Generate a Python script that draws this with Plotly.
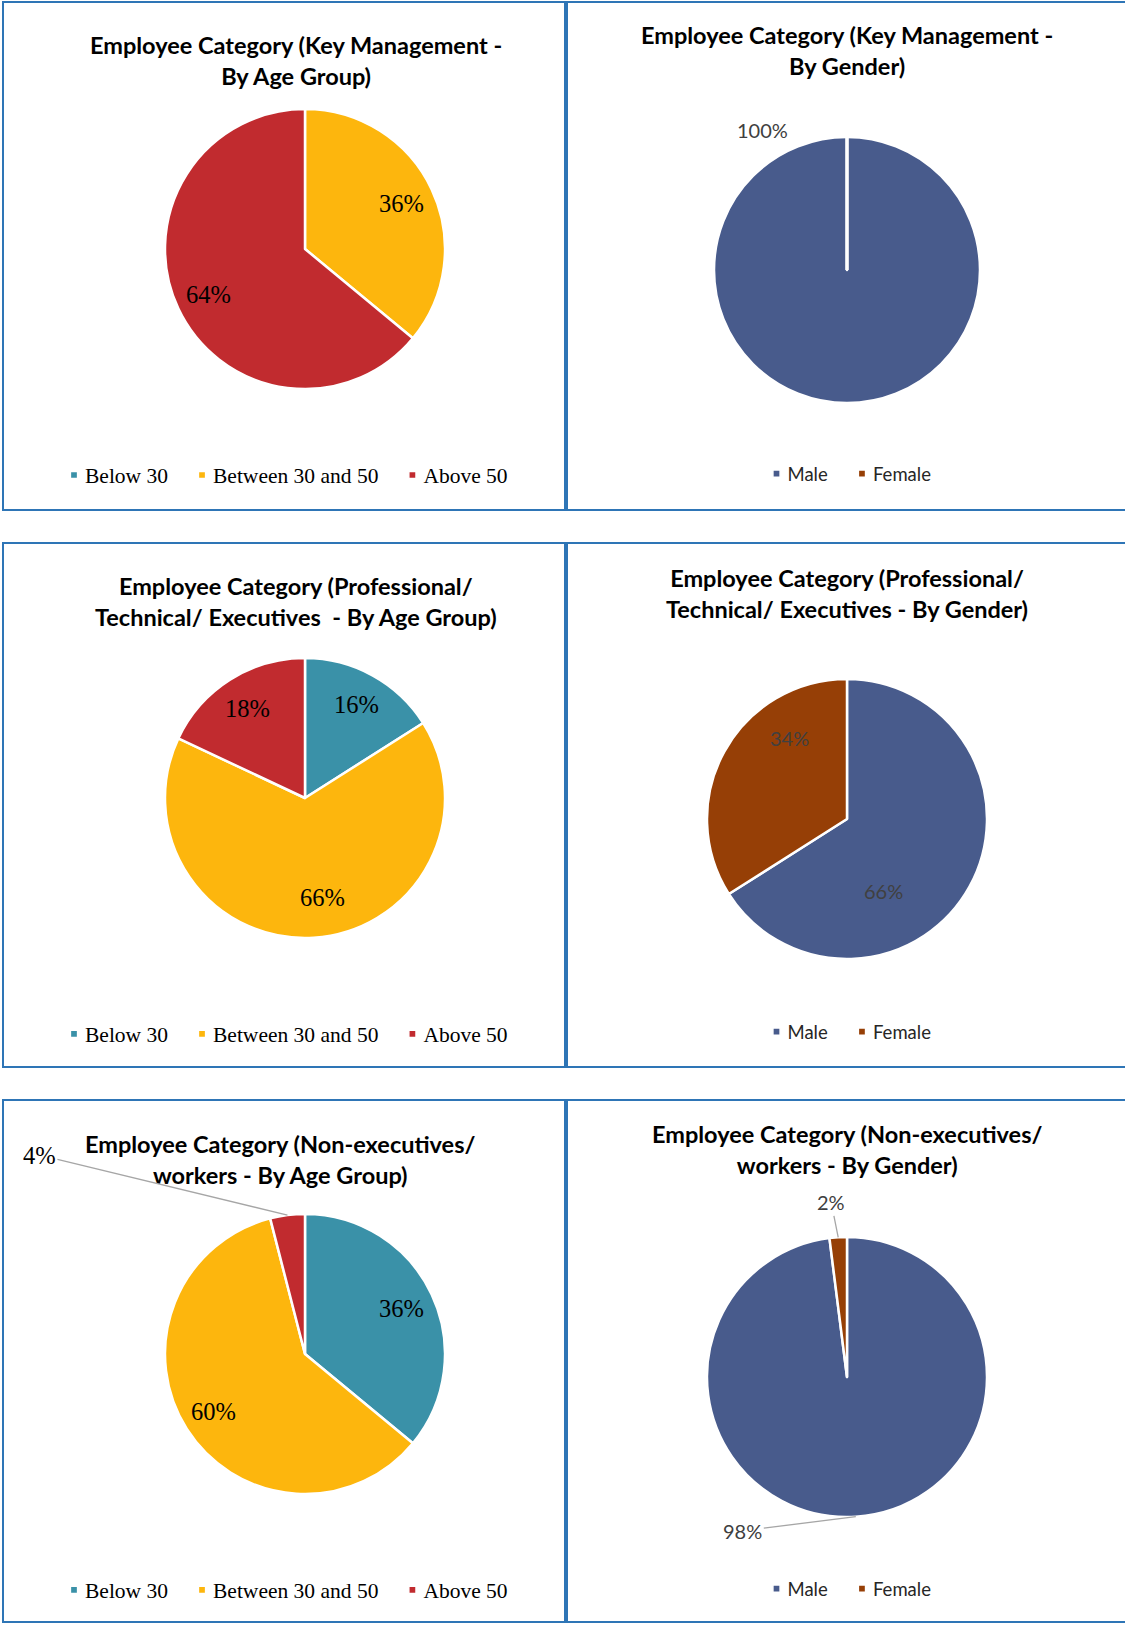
import math
import plotly.graph_objects as go

W, H = 1125, 1625

# ---------------- data ----------------
age_labels = ["Below 30", "Between 30 and 50", "Above 50"]
gender_labels = ["Male", "Female"]

km_age = [0, 36, 64]
km_gender = [100, 0]
pte_age = [16, 66, 18]
pte_gender = [66, 34]
ne_age = [36, 60, 4]
ne_gender = [98, 2]

titles = [
    "Employee Category (Key Management -<br>By Age Group)",
    "Employee Category (Key Management -<br>By Gender)",
    "Employee Category (Professional/<br>Technical/ Executives  - By Age Group)",
    "Employee Category (Professional/<br>Technical/ Executives - By Gender)",
    "Employee Category (Non-executives/<br>workers - By Age Group)",
    "Employee Category (Non-executives/<br>workers - By Gender)",
]

age_colors = ["#3A91A8", "#FDB60D", "#C12B2F"]
gender_colors = ["#485B8C", "#963F06"]

# ---------------- layout geometry (pixels) ----------------
panels = [  # x0, y0, x1, y1
    (3, 2, 565, 510), (567, 2, 1135, 510),
    (3, 543, 565, 1067), (567, 543, 1135, 1067),
    (3, 1100, 565, 1622), (567, 1100, 1135, 1622),
]
pies = [  # cx, cy, r
    (305, 249, 140), (847, 270, 133),
    (305, 798, 140), (847, 819, 140),
    (305, 1354, 140), (847, 1377, 140),
]
title_pos = [(296, 60), (847, 51), (296, 602), (847, 593), (280, 1159), (847, 1149)]
legend_pos = [(279, 475), (842, 474), (279, 1034), (842, 1032), (279, 1590), (842, 1589)]


def px(x):
    return x / W


def py(y):
    return 1 - y / H


SERIF = "Liberation Serif, Times New Roman, serif"
SANS = "Lato, Calibri, sans-serif"

datasets = [
    (km_age, age_labels, age_colors, "age"),
    (km_gender, gender_labels, gender_colors, "gender"),
    (pte_age, age_labels, age_colors, "age"),
    (pte_gender, gender_labels, gender_colors, "gender"),
    (ne_age, age_labels, age_colors, "age"),
    (ne_gender, gender_labels, gender_colors, "gender"),
]

# inside-label placement: None = no inside label, else (radius fraction, angle override or None)
inside_place = [
    [None, (0.76, None), (0.76, None)],
    [None, None],
    [(0.76, None), (0.72, 170), (0.76, None)],
    [(0.58, 153), (0.71, 325)],
    [(0.76, None), (0.77, None), None],
    [None, None],
]

fig = go.Figure()

ZW = "\u200b"  # keeps legend entries of each panel separate (pie legends merge equal labels)

for i, (vals, labs, cols, kind) in enumerate(datasets):
    cx, cy, r = pies[i]
    leg = "legend" if i == 0 else f"legend{i + 1}"
    fig.add_trace(go.Pie(
        labels=[l + ZW * i for l in labs],
        values=vals,
        sort=False,
        direction="clockwise",
        rotation=0,
        marker=dict(colors=cols, line=dict(color="white", width=2.5)),
        textinfo="none",
        hovertemplate="%{label}: %{percent:.0%}<extra></extra>",
        domain=dict(x=[px(cx - r), px(cx + r)], y=[py(cy + r), py(cy - r)]),
        legend=leg,
        showlegend=True,
    ))

    # legend for this panel
    lx, ly = legend_pos[i]
    lfont = dict(family=SERIF, size=21.5, color="#000000") if kind == "age" else \
        dict(family=SANS, size=18.5, color="#262626")
    fig.update_layout(**{leg: dict(
        orientation="h", x=px(lx), y=py(ly), xanchor="center", yanchor="middle",
        font=lfont, bgcolor="rgba(0,0,0,0)", itemclick=False, itemdoubleclick=False,
    )})

    # title
    tx, ty = title_pos[i]
    fig.add_annotation(
        text=titles[i], x=px(tx), y=py(ty), xref="paper", yref="paper",
        showarrow=False, xanchor="center", yanchor="middle",
        font=dict(family=SANS, size=23.5, color="#000000", weight="bold"),
    )

    # panel border
    x0, y0, x1, y1 = panels[i]
    fig.add_shape(type="rect", xref="paper", yref="paper",
                  x0=px(x0), x1=px(x1), y0=py(y1), y1=py(y0),
                  line=dict(color="#2E75B6", width=2), fillcolor="rgba(0,0,0,0)")

    # inside data labels
    tot = sum(vals)
    for k, v in enumerate(vals):
        place = inside_place[i][k]
        if place is None:
            continue
        frac, ang = place
        if ang is None:
            ang = (sum(vals[:k]) + v / 2) / tot * 360
        a = math.radians(ang)
        lx_, ly_ = cx + frac * r * math.sin(a), cy - frac * r * math.cos(a)
        f = dict(family=SERIF, size=24.5, color="#000000") if kind == "age" else \
            dict(family=SANS, size=20, color="#404040")
        fig.add_annotation(text=f"{round(v / tot * 100)}%", x=px(lx_), y=py(ly_),
                           xref="paper", yref="paper", showarrow=False,
                           xanchor="center", yanchor="middle", font=f)


def edge_point(vals, k, cx, cy, r):
    tot = sum(vals)
    mid = (sum(vals[:k]) + vals[k] / 2) / tot * 2 * math.pi
    return cx + r * math.sin(mid), cy - r * math.cos(mid)


# 100% label on the single-slice pie (Key Management - gender)
cx, cy, r = pies[1]
fig.add_annotation(text=f"{km_gender[0]}%", x=px(cx - 85), y=py(cy - 140), xref="paper", yref="paper",
                   showarrow=False, xanchor="center", yanchor="middle",
                   font=dict(family=SANS, size=20, color="#404040"))
# white separator for the zero-value Female slice at 12 o'clock
fig.add_shape(type="line", xref="paper", yref="paper",
              x0=px(cx), x1=px(cx), y0=py(cy), y1=py(cy - r),
              line=dict(color="white", width=3.5))

# callout labels with leader lines
callouts = [  # (dataset index, slice index, label dx, label dy, kind)
    (4, 2, -248, -60, "age"),
    (5, 1, -7, -35, "gender"),
    (5, 0, -113, 14, "gender"),
]
for di, k, dx, dy, kind in callouts:
    vals = datasets[di][0]
    cx, cy, r = pies[di]
    ex, ey = edge_point(vals, k, cx, cy, r)
    f = dict(family=SERIF, size=24.5, color="#000000") if kind == "age" else \
        dict(family=SANS, size=20, color="#404040")
    fig.add_annotation(text=f"{vals[k]}%", x=px(ex), y=py(ey), xref="paper", yref="paper",
                       ax=dx, ay=dy, axref="pixel", ayref="pixel",
                       showarrow=True, arrowhead=0, arrowwidth=1.3, arrowcolor="#A6A6A6",
                       font=f)

fig.update_layout(
    width=W, height=H,
    margin=dict(l=0, r=0, t=0, b=0),
    paper_bgcolor="white", plot_bgcolor="white",
)

post = (
    "document.body.style.margin='0';document.body.style.overflow='hidden';"
    "document.querySelectorAll('.legendpoints path').forEach(function(p){"
    "p.setAttribute('transform','translate(29,0) scale(0.6)');});"
)

fig.write_html("out.html", config={"displayModeBar": False}, post_script=post)
